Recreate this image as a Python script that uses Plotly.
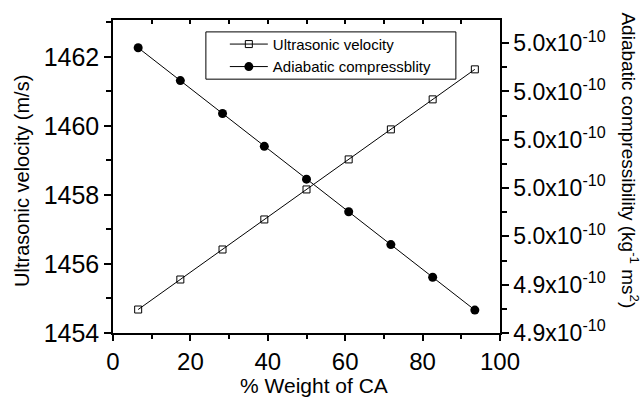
import plotly.graph_objects as go

weight_ca = [6.5, 17.4, 28.3, 39.1, 50.0, 60.9, 71.8, 82.6, 93.5]
ultrasonic_velocity = [1454.68, 1455.55, 1456.42, 1457.29, 1458.16, 1459.03, 1459.90, 1460.77, 1461.64]
adiabatic_compress = [5.0381e-10, 5.0245e-10, 5.0109e-10, 4.9973e-10, 4.9837e-10,
                      4.9702e-10, 4.9566e-10, 4.9431e-10, 4.9295e-10]
x_tickvals = [0, 20, 40, 60, 80, 100]
left_tickvals = [1454, 1456, 1458, 1460, 1462]
right_tickvals = [4.92e-10, 4.94e-10, 4.96e-10, 4.98e-10, 5.00e-10, 5.02e-10, 5.04e-10]
right_ticktext = ["4.9x10<sup>-10</sup>", "4.9x10<sup>-10</sup>", "5.0x10<sup>-10</sup>",
                  "5.0x10<sup>-10</sup>", "5.0x10<sup>-10</sup>", "5.0x10<sup>-10</sup>",
                  "5.0x10<sup>-10</sup>"]
right_minor = [4.93e-10, 4.95e-10, 4.97e-10, 4.99e-10, 5.01e-10, 5.03e-10]

FONT = "Arial"

fig = go.Figure()
fig.add_trace(go.Scatter(
    x=weight_ca, y=ultrasonic_velocity, name="Ultrasonic velocity",
    mode="lines+markers", line=dict(color="black", width=1),
    marker=dict(symbol="square-open", size=7, color="black", line=dict(width=1)),
    yaxis="y"))
fig.add_trace(go.Scatter(
    x=weight_ca, y=adiabatic_compress, name="Adiabatic compressblity",
    mode="lines+markers", line=dict(color="black", width=1),
    marker=dict(symbol="circle", size=9, color="black"),
    yaxis="y2"))
# invisible trace to carry the top (inside-tick) axis
fig.add_trace(go.Scatter(x=[0, 100], y=[1454, 1454], xaxis="x2", yaxis="y",
                         mode="lines", line=dict(width=0), showlegend=False,
                         hoverinfo="skip", opacity=0))

fig.update_layout(
    width=644, height=397,
    margin=dict(l=113, r=144, t=20, b=64),
    paper_bgcolor="white", plot_bgcolor="white",
    font=dict(family=FONT, color="black"),
    showlegend=True,
    legend=dict(x=0.289, y=0.975, xanchor="left", yanchor="top",
                borderwidth=0, bgcolor="rgba(0,0,0,0)",
                font=dict(size=15, family=FONT), tracegroupgap=0, itemwidth=38),
    xaxis=dict(range=[0, 100], tickvals=x_tickvals,
               ticks="outside", ticklen=6, tickwidth=1.5, tickcolor="black",
               minor=dict(dtick=10, ticks="outside", ticklen=4, tickwidth=1.5, tickcolor="black"),
               showline=True, linecolor="black", linewidth=1.5, showgrid=False,
               zeroline=False, tickfont=dict(size=24, family=FONT)),
    xaxis2=dict(range=[0, 100], overlaying="x", side="top", anchor="y",
                dtick=10, tick0=0, ticks="inside", ticklen=4, tickwidth=1.5, tickcolor="black",
                showticklabels=False, showline=True, linecolor="black", linewidth=1.5,
                showgrid=False, zeroline=False),
    yaxis=dict(range=[1454, 1463.07], tickvals=left_tickvals,
               ticks="outside", ticklen=7, tickwidth=1.5, tickcolor="black",
               minor=dict(dtick=1, tick0=1454, ticks="outside", ticklen=5, tickwidth=1.5, tickcolor="black"),
               showline=True, linecolor="black", linewidth=1.5, showgrid=False,
               zeroline=False, tickfont=dict(size=25, family=FONT)),
    yaxis2=dict(range=[4.92e-10, 5.0496e-10], overlaying="y", side="right",
                tickvals=right_tickvals, ticktext=right_ticktext,
                ticks="outside", ticklen=7, tickwidth=1.5, tickcolor="black",
                minor=dict(tickvals=right_minor,
                           ticks="outside", ticklen=5, tickwidth=1.5, tickcolor="black"),
                showline=True, linecolor="black", linewidth=1.5, showgrid=False,
                zeroline=False, tickfont=dict(size=23, family=FONT)),
)

# legend frame
fig.add_shape(type="rect", xref="paper", yref="paper",
              x0=0.240, x1=0.886, y0=0.811, y1=0.962,
              line=dict(color="black", width=1), fillcolor="rgba(0,0,0,0)", layer="above")

fig.add_annotation(
    text="% Weight of CA", xref="paper", yref="paper", x=0.52, y=-0.168,
    xanchor="center", yanchor="middle", showarrow=False,
    font=dict(size=21, family=FONT, color="black"))
fig.add_annotation(
    text="Ultrasonic velocity (m/s)", xref="paper", yref="paper", x=-0.235, y=0.486,
    xanchor="center", yanchor="middle", textangle=-90, showarrow=False,
    font=dict(size=20, family=FONT, color="black"))
fig.add_annotation(
    text="Adiabatic compressibility (kg<sup>-1</sup> ms<sup>2</sup>)",
    xref="paper", yref="paper", x=1.337, y=0.55, xanchor="center", yanchor="middle",
    textangle=90, showarrow=False, font=dict(size=19, family=FONT, color="black"))

fig.write_html("out.html")
